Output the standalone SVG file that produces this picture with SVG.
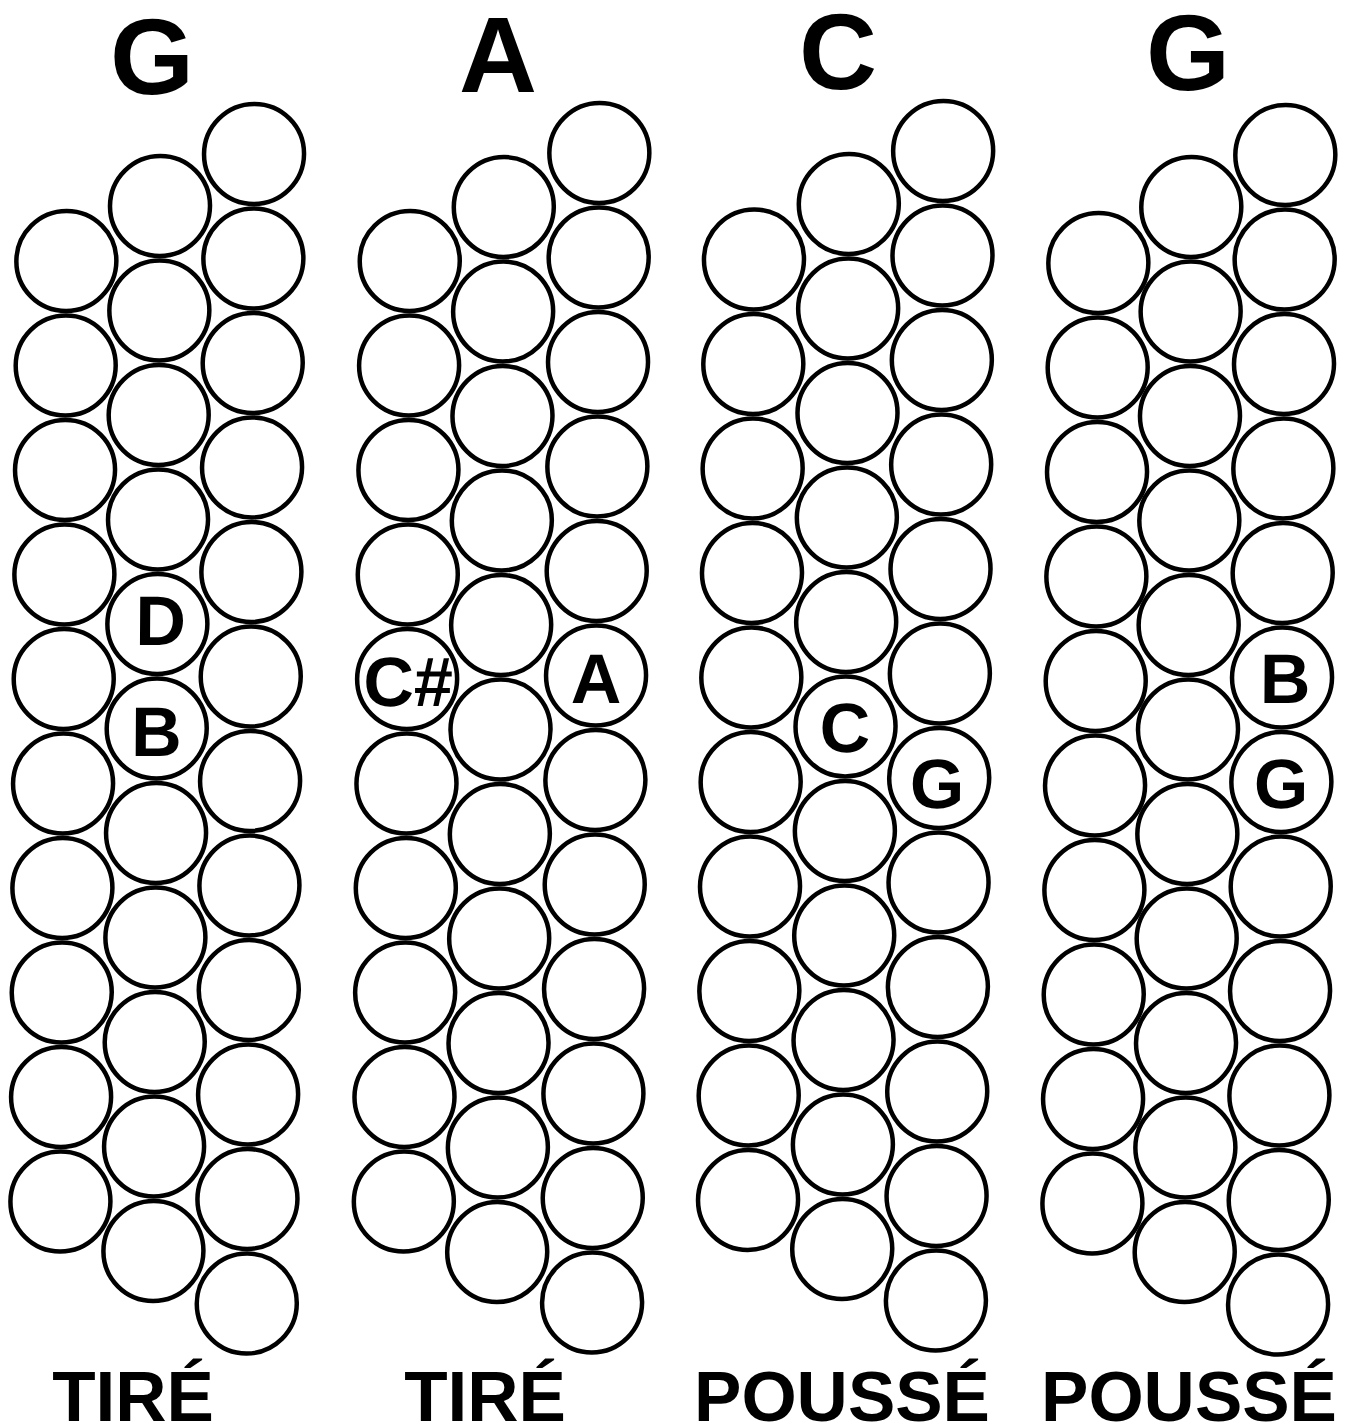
<svg xmlns="http://www.w3.org/2000/svg" xmlns:xlink="http://www.w3.org/1999/xlink" width="1349" height="1425" viewBox="0 0 1349 1425">
<style>
.btn circle{fill:#fff;stroke:#000;stroke-width:4.5}
.lbl{font-family:"Liberation Sans",Arial,Helvetica,sans-serif;font-weight:bold;font-size:70px;fill:#000;text-anchor:middle}
.title{font-family:"Liberation Sans",Arial,Helvetica,sans-serif;font-weight:bold;font-size:108px;fill:#000;text-anchor:middle}
.foot{font-family:"Liberation Sans",Arial,Helvetica,sans-serif;font-weight:bold;font-size:71px;fill:#000;text-anchor:middle}
</style>
<rect x="0" y="0" width="1349" height="1425" fill="#fff"/>
<g id="titles">
<text class="title" x="152" y="93.5">G</text>
<text class="title" x="498" y="92">A</text>
<text class="title" x="838" y="89">C</text>
<text class="title" x="1188" y="89.5">G</text>
</g>
<g id="footers">
<text class="foot" x="133" y="1421">TIRÉ</text>
<text class="foot" x="485" y="1421">TIRÉ</text>
<text class="foot" x="842" y="1421">POUSSÉ</text>
<text class="foot" x="1189" y="1421">POUSSÉ</text>
</g>
<g id="buttons" transform="skewX(-0.361)">
<!-- Panel 1 -->
<g id="p1">
<g id="p1-L1" class="btn"><circle cx="68" cy="261" r="50"/></g>
<g id="p1-L2" class="btn"><circle cx="68" cy="365.5" r="50"/></g>
<g id="p1-L3" class="btn"><circle cx="68" cy="470" r="50"/></g>
<g id="p1-L4" class="btn"><circle cx="68" cy="574.5" r="50"/></g>
<g id="p1-L5" class="btn"><circle cx="68" cy="679" r="50"/></g>
<g id="p1-L6" class="btn"><circle cx="68" cy="783.5" r="50"/></g>
<g id="p1-L7" class="btn"><circle cx="68" cy="888" r="50"/></g>
<g id="p1-L8" class="btn"><circle cx="68" cy="992.5" r="50"/></g>
<g id="p1-L9" class="btn"><circle cx="68" cy="1097" r="50"/></g>
<g id="p1-L10" class="btn"><circle cx="68" cy="1201.5" r="50"/></g>
<g id="p1-M1" class="btn"><circle cx="161.3" cy="206" r="50"/></g>
<g id="p1-M2" class="btn"><circle cx="161.3" cy="310.5" r="50"/></g>
<g id="p1-M3" class="btn"><circle cx="161.3" cy="415" r="50"/></g>
<g id="p1-M4" class="btn"><circle cx="161.3" cy="519.5" r="50"/></g>
<g id="p1-M5" class="btn"><circle cx="161.3" cy="624" r="50"/><text class="lbl" x="164.7" y="645">D</text></g>
<g id="p1-M6" class="btn"><circle cx="161.3" cy="728.5" r="50"/><text class="lbl" x="161" y="756">B</text></g>
<g id="p1-M7" class="btn"><circle cx="161.3" cy="833" r="50"/></g>
<g id="p1-M8" class="btn"><circle cx="161.3" cy="937.5" r="50"/></g>
<g id="p1-M9" class="btn"><circle cx="161.3" cy="1042" r="50"/></g>
<g id="p1-M10" class="btn"><circle cx="161.3" cy="1146.5" r="50"/></g>
<g id="p1-M11" class="btn"><circle cx="161.3" cy="1251" r="50"/></g>
<g id="p1-R1" class="btn"><circle cx="255" cy="154" r="50"/></g>
<g id="p1-R2" class="btn"><circle cx="255" cy="258.5" r="50"/></g>
<g id="p1-R3" class="btn"><circle cx="255" cy="363" r="50"/></g>
<g id="p1-R4" class="btn"><circle cx="255" cy="467.5" r="50"/></g>
<g id="p1-R5" class="btn"><circle cx="255" cy="572" r="50"/></g>
<g id="p1-R6" class="btn"><circle cx="255" cy="676.5" r="50"/></g>
<g id="p1-R7" class="btn"><circle cx="255" cy="781" r="50"/></g>
<g id="p1-R8" class="btn"><circle cx="255" cy="885.5" r="50"/></g>
<g id="p1-R9" class="btn"><circle cx="255" cy="990" r="50"/></g>
<g id="p1-R10" class="btn"><circle cx="255" cy="1094.5" r="50"/></g>
<g id="p1-R11" class="btn"><circle cx="255" cy="1199" r="50"/></g>
<g id="p1-R12" class="btn"><circle cx="255" cy="1303.5" r="50"/></g>
</g>
<!-- Panel 2 -->
<g id="p2">
<g id="p2-L1" class="btn"><circle cx="411.4" cy="261" r="50"/></g>
<g id="p2-L2" class="btn"><circle cx="411.4" cy="365.5" r="50"/></g>
<g id="p2-L3" class="btn"><circle cx="411.4" cy="470" r="50"/></g>
<g id="p2-L4" class="btn"><circle cx="411.4" cy="574.5" r="50"/></g>
<g id="p2-L5" class="btn"><circle cx="411.4" cy="679" r="50"/><text class="lbl" x="412.5" y="706">C#</text></g>
<g id="p2-L6" class="btn"><circle cx="411.4" cy="783.5" r="50"/></g>
<g id="p2-L7" class="btn"><circle cx="411.4" cy="888" r="50"/></g>
<g id="p2-L8" class="btn"><circle cx="411.4" cy="992.5" r="50"/></g>
<g id="p2-L9" class="btn"><circle cx="411.4" cy="1097" r="50"/></g>
<g id="p2-L10" class="btn"><circle cx="411.4" cy="1201.5" r="50"/></g>
<g id="p2-M1" class="btn"><circle cx="505.1" cy="207" r="50"/></g>
<g id="p2-M2" class="btn"><circle cx="505.1" cy="311.5" r="50"/></g>
<g id="p2-M3" class="btn"><circle cx="505.1" cy="416" r="50"/></g>
<g id="p2-M4" class="btn"><circle cx="505.1" cy="520.5" r="50"/></g>
<g id="p2-M5" class="btn"><circle cx="505.1" cy="625" r="50"/></g>
<g id="p2-M6" class="btn"><circle cx="505.1" cy="729.5" r="50"/></g>
<g id="p2-M7" class="btn"><circle cx="505.1" cy="834" r="50"/></g>
<g id="p2-M8" class="btn"><circle cx="505.1" cy="938.5" r="50"/></g>
<g id="p2-M9" class="btn"><circle cx="505.1" cy="1043" r="50"/></g>
<g id="p2-M10" class="btn"><circle cx="505.1" cy="1147.5" r="50"/></g>
<g id="p2-M11" class="btn"><circle cx="505.1" cy="1252" r="50"/></g>
<g id="p2-R1" class="btn"><circle cx="600.3" cy="153" r="50"/></g>
<g id="p2-R2" class="btn"><circle cx="600.3" cy="257.5" r="50"/></g>
<g id="p2-R3" class="btn"><circle cx="600.3" cy="362" r="50"/></g>
<g id="p2-R4" class="btn"><circle cx="600.3" cy="466.5" r="50"/></g>
<g id="p2-R5" class="btn"><circle cx="600.3" cy="571" r="50"/></g>
<g id="p2-R6" class="btn"><circle cx="600.3" cy="675.5" r="50"/><text class="lbl" x="600.4" y="703">A</text></g>
<g id="p2-R7" class="btn"><circle cx="600.3" cy="780" r="50"/></g>
<g id="p2-R8" class="btn"><circle cx="600.3" cy="884.5" r="50"/></g>
<g id="p2-R9" class="btn"><circle cx="600.3" cy="989" r="50"/></g>
<g id="p2-R10" class="btn"><circle cx="600.3" cy="1093.5" r="50"/></g>
<g id="p2-R11" class="btn"><circle cx="600.3" cy="1198" r="50"/></g>
<g id="p2-R12" class="btn"><circle cx="600.3" cy="1302.5" r="50"/></g>
</g>
<!-- Panel 3 -->
<g id="p3">
<g id="p3-L1" class="btn"><circle cx="755.6" cy="259.5" r="50"/></g>
<g id="p3-L2" class="btn"><circle cx="755.6" cy="364" r="50"/></g>
<g id="p3-L3" class="btn"><circle cx="755.6" cy="468.5" r="50"/></g>
<g id="p3-L4" class="btn"><circle cx="755.6" cy="573" r="50"/></g>
<g id="p3-L5" class="btn"><circle cx="755.6" cy="677.5" r="50"/></g>
<g id="p3-L6" class="btn"><circle cx="755.6" cy="782" r="50"/></g>
<g id="p3-L7" class="btn"><circle cx="755.6" cy="886.5" r="50"/></g>
<g id="p3-L8" class="btn"><circle cx="755.6" cy="991" r="50"/></g>
<g id="p3-L9" class="btn"><circle cx="755.6" cy="1095.5" r="50"/></g>
<g id="p3-L10" class="btn"><circle cx="755.6" cy="1200" r="50"/></g>
<g id="p3-M1" class="btn"><circle cx="850.1" cy="204" r="50"/></g>
<g id="p3-M2" class="btn"><circle cx="850.1" cy="308.5" r="50"/></g>
<g id="p3-M3" class="btn"><circle cx="850.1" cy="413" r="50"/></g>
<g id="p3-M4" class="btn"><circle cx="850.1" cy="517.5" r="50"/></g>
<g id="p3-M5" class="btn"><circle cx="850.1" cy="622" r="50"/></g>
<g id="p3-M6" class="btn"><circle cx="850.1" cy="726.5" r="50"/><text class="lbl" x="849.5" y="752">C</text></g>
<g id="p3-M7" class="btn"><circle cx="850.1" cy="831" r="50"/></g>
<g id="p3-M8" class="btn"><circle cx="850.1" cy="935.5" r="50"/></g>
<g id="p3-M9" class="btn"><circle cx="850.1" cy="1040" r="50"/></g>
<g id="p3-M10" class="btn"><circle cx="850.1" cy="1144.5" r="50"/></g>
<g id="p3-M11" class="btn"><circle cx="850.1" cy="1249" r="50"/></g>
<g id="p3-R1" class="btn"><circle cx="944.1" cy="151" r="50"/></g>
<g id="p3-R2" class="btn"><circle cx="944.1" cy="255.5" r="50"/></g>
<g id="p3-R3" class="btn"><circle cx="944.1" cy="360" r="50"/></g>
<g id="p3-R4" class="btn"><circle cx="944.1" cy="464.5" r="50"/></g>
<g id="p3-R5" class="btn"><circle cx="944.1" cy="569" r="50"/></g>
<g id="p3-R6" class="btn"><circle cx="944.1" cy="673.5" r="50"/></g>
<g id="p3-R7" class="btn"><circle cx="944.1" cy="778" r="50"/><text class="lbl" x="942" y="808">G</text></g>
<g id="p3-R8" class="btn"><circle cx="944.1" cy="882.5" r="50"/></g>
<g id="p3-R9" class="btn"><circle cx="944.1" cy="987" r="50"/></g>
<g id="p3-R10" class="btn"><circle cx="944.1" cy="1091.5" r="50"/></g>
<g id="p3-R11" class="btn"><circle cx="944.1" cy="1196" r="50"/></g>
<g id="p3-R12" class="btn"><circle cx="944.1" cy="1300.5" r="50"/></g>
</g>
<!-- Panel 4 -->
<g id="p4">
<g id="p4-L1" class="btn"><circle cx="1100" cy="263" r="50"/></g>
<g id="p4-L2" class="btn"><circle cx="1100" cy="367.5" r="50"/></g>
<g id="p4-L3" class="btn"><circle cx="1100" cy="472" r="50"/></g>
<g id="p4-L4" class="btn"><circle cx="1100" cy="576.5" r="50"/></g>
<g id="p4-L5" class="btn"><circle cx="1100" cy="681" r="50"/></g>
<g id="p4-L6" class="btn"><circle cx="1100" cy="785.5" r="50"/></g>
<g id="p4-L7" class="btn"><circle cx="1100" cy="890" r="50"/></g>
<g id="p4-L8" class="btn"><circle cx="1100" cy="994.5" r="50"/></g>
<g id="p4-L9" class="btn"><circle cx="1100" cy="1099" r="50"/></g>
<g id="p4-L10" class="btn"><circle cx="1100" cy="1203.5" r="50"/></g>
<g id="p4-M1" class="btn"><circle cx="1192.6" cy="207" r="50"/></g>
<g id="p4-M2" class="btn"><circle cx="1192.6" cy="311.5" r="50"/></g>
<g id="p4-M3" class="btn"><circle cx="1192.6" cy="416" r="50"/></g>
<g id="p4-M4" class="btn"><circle cx="1192.6" cy="520.5" r="50"/></g>
<g id="p4-M5" class="btn"><circle cx="1192.6" cy="625" r="50"/></g>
<g id="p4-M6" class="btn"><circle cx="1192.6" cy="729.5" r="50"/></g>
<g id="p4-M7" class="btn"><circle cx="1192.6" cy="834" r="50"/></g>
<g id="p4-M8" class="btn"><circle cx="1192.6" cy="938.5" r="50"/></g>
<g id="p4-M9" class="btn"><circle cx="1192.6" cy="1043" r="50"/></g>
<g id="p4-M10" class="btn"><circle cx="1192.6" cy="1147.5" r="50"/></g>
<g id="p4-M11" class="btn"><circle cx="1192.6" cy="1252" r="50"/></g>
<g id="p4-R1" class="btn"><circle cx="1286.3" cy="155" r="50"/></g>
<g id="p4-R2" class="btn"><circle cx="1286.3" cy="259.5" r="50"/></g>
<g id="p4-R3" class="btn"><circle cx="1286.3" cy="364" r="50"/></g>
<g id="p4-R4" class="btn"><circle cx="1286.3" cy="468.5" r="50"/></g>
<g id="p4-R5" class="btn"><circle cx="1286.3" cy="573" r="50"/></g>
<g id="p4-R6" class="btn"><circle cx="1286.3" cy="677.5" r="50"/><text class="lbl" x="1289.4" y="703">B</text></g>
<g id="p4-R7" class="btn"><circle cx="1286.3" cy="782" r="50"/><text class="lbl" x="1286.1" y="808">G</text></g>
<g id="p4-R8" class="btn"><circle cx="1286.3" cy="886.5" r="50"/></g>
<g id="p4-R9" class="btn"><circle cx="1286.3" cy="991" r="50"/></g>
<g id="p4-R10" class="btn"><circle cx="1286.3" cy="1095.5" r="50"/></g>
<g id="p4-R11" class="btn"><circle cx="1286.3" cy="1200" r="50"/></g>
<g id="p4-R12" class="btn"><circle cx="1286.3" cy="1304.5" r="50"/></g>
</g>
</g>
</svg>
